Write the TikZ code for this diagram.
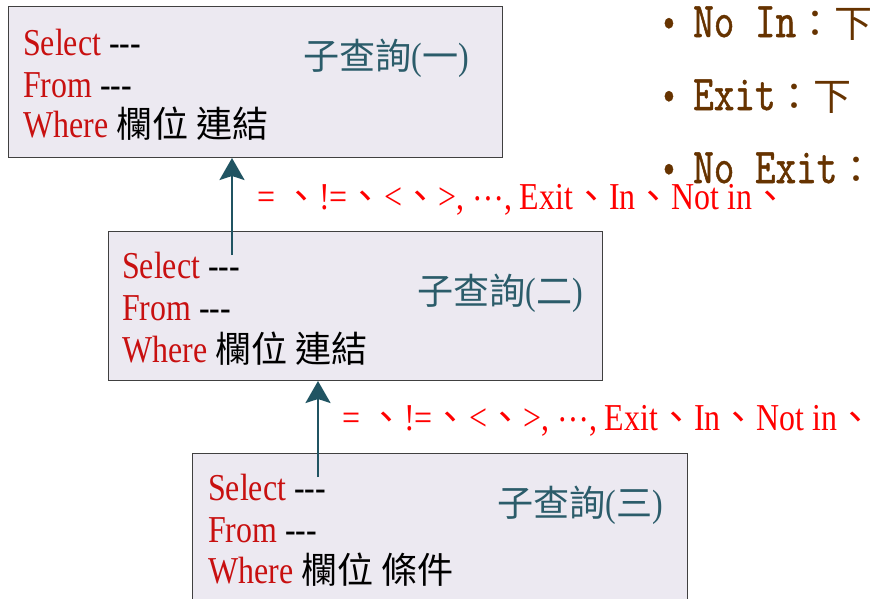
\documentclass[tikz,border=0pt]{standalone}
\usepackage{fontspec}
\setmainfont{Liberation Serif}[FakeStretch=0.84]
\newfontfamily\cjk{Noto Sans CJK TC}[Scale=0.95]
\newfontfamily\monofont{Latin Modern Mono}[FakeStretch=0.8,FakeBold=1]
\usepackage{xcolor}
\usetikzlibrary{arrows.meta,positioning,calc}

\definecolor{boxfill}{RGB}{236,233,241}
\definecolor{sqlred}{RGB}{200,16,16}
\definecolor{qteal}{RGB}{43,92,106}
\definecolor{arrowteal}{RGB}{32,84,98}
\definecolor{opred}{RGB}{255,0,0}
\definecolor{notebrown}{RGB}{102,51,0}

\newcommand\kw[1]{\textcolor{sqlred}{#1}}
\newcommand\bul{\llap{\raisebox{4pt}{\fontsize{40}{40}\selectfont\textbullet}\hspace{16pt}}}
\newcommand\zh[1]{{\cjk\fontsize{40}{40}\selectfont #1}}
\newcommand\oplist{= {\cjk 、}!={\cjk 、}<{\cjk 、}>, \raisebox{9pt}{…}, Exit{\cjk 、}In{\cjk 、}Not in{\cjk 、}}

\begin{document}
\begin{tikzpicture}[x=1pt,y=-1pt,
      qbox/.style={
        rectangle,
        draw=black!75,
        line width=1pt,
        fill=boxfill,
        anchor=north west,
        inner sep=0pt
      },
      sql/.style={anchor=base west,inner sep=0pt,font=\fontsize{38}{42}\selectfont},
      title/.style={sql,text=qteal},
      ops/.style={sql,text=opred},
      note/.style={anchor=base west,inner sep=0pt,text=notebrown,font=\monofont\fontsize{50}{50}\selectfont},
      link/.style={-{Stealth[length=22pt,width=25pt,inset=4pt]},line width=2.6pt,draw=arrowteal}
    ]
    \useasboundingbox (0,0) rectangle (872,598);

    % Subqueries
    \node[qbox,minimum width=494pt,minimum height=151pt] (q1) at (8,6) {};
    \node[qbox,minimum width=494pt,minimum height=149pt] (q2) at (108,231) {};
    \node[qbox,minimum width=495pt,minimum height=160pt] (q3) at (192,453) {};

    \node[sql] (s1) at (23,55) {\kw{Select} -{}-{}-};
    \node[sql] (f1) at (23,97) {\kw{From} -{}-{}-};
    \node[sql] (w1) at (23,137) {\kw{Where} {\cjk 欄位 連結}};
    \node[title] (h1) at (303,69) {{\cjk 子查詢}({\cjk 一})};

    \node[sql] (s2) at (122,278) {\kw{Select} -{}-{}-};
    \node[sql] (f2) at (122,320) {\kw{From} -{}-{}-};
    \node[sql] (w2) at (122,362) {\kw{Where} {\cjk 欄位 連結}};
    \node[title] (h2) at (417,304) {{\cjk 子查詢}({\cjk 二})};

    \node[sql] (s3) at (208,500) {\kw{Select} -{}-{}-};
    \node[sql] (f3) at (208,542) {\kw{From} -{}-{}-};
    \node[sql] (w3) at (208,583) {\kw{Where} {\cjk 欄位 條件}};
    \node[title] (h3) at (497,516) {{\cjk 子查詢}({\cjk 三})};

    % Links
    \coordinate (t2) at (232,255);
    \coordinate (t3) at (318,477);
    \draw[link] (t2) -- (t2 |- q1.south);
    \draw[link] (t3) -- (t3 |- q2.south);

    % Notes on the right
    \node[note] (n1) at (693,37) {\bul No In\zh{：下}};
    \node[note] (n2) at (693,110) {\bul Exit\zh{：下}};
    \node[note] (n3) at (693,183) {\bul No Exit\zh{：}};

    % Operators
    \node[ops] (op1) at (257,209) {\oplist};
    \node[ops] (op2) at (342,430) {\oplist};
  \end{tikzpicture}
\end{document}
